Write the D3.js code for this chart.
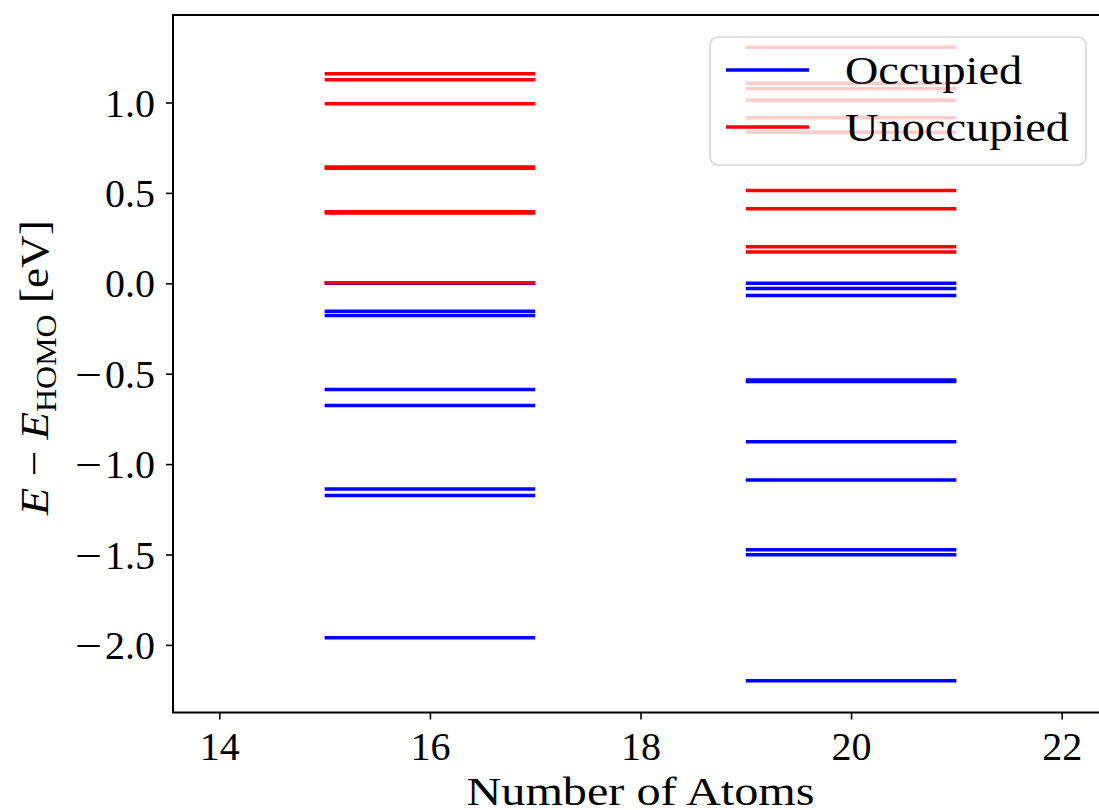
<!DOCTYPE html>
<html>
<head>
<meta charset="utf-8">
<script src="https://cdn.jsdelivr.net/npm/d3@7"></script>
<style>
	html, body { margin: 0; padding: 0; background: #fff; overflow: hidden; }
	svg { display: block; }
	text { font-family: "Liberation Serif", "DejaVu Serif", serif; fill: #000; }
</style>
</head>
<body>
<div id="viz"><svg width="1099" height="810"></svg></div>
<script>
// energy levels relative to HOMO, in eV
const atoms = [16, 20];
const occupied = [
	[0.0, -0.154, -0.178, -0.587, -0.676, -1.138, -1.174, -1.961],
	[0.0, -0.029, -0.067, -0.535, -0.543, -0.877, -1.088, -1.474, -1.502, -2.199]
];
const unoccupied = [
	[0.003, 0.389, 0.396, 0.636, 0.643, 0.993, 1.126, 1.159],
	[0.173, 0.202, 0.412, 0.513, 0.836, 0.915, 1.013, 1.076, 1.107, 1.306]
];
const xTicks = [14, 16, 18, 20, 22];
const yTicks = [-2.0, -1.5, -1.0, -0.5, 0.0, 0.5, 1.0];
const legendLabels = ['Occupied', 'Unoccupied'];
const colors = ['#0000ff', '#ff0000'];

const margin = { left: 173, top: 15 };
const width = 935;
const height = 697.5;

const svg = d3.select('#viz svg');
const g = svg.append('g').attr('transform', `translate(${margin.left},${margin.top})`);

const x = d3.scaleLinear().domain([13.56, 22.44]).range([0, width]);
const y = d3.scaleLinear().domain([-2.374, 1.484]).range([height, 0]);

// levels: one short horizontal segment per energy, spanning N-1 .. N+1
const levels = [];
atoms.forEach((n, i) => {
	occupied[i].forEach(e => levels.push({ n, e, c: 0 }));
	unoccupied[i].forEach(e => levels.push({ n, e, c: 1 }));
});

g.selectAll('line.level')
	.data(levels)
	.enter()
		.append('line')
		.classed('level', true)
		.attr('x1', d => x(d.n - 1))
		.attr('x2', d => x(d.n + 1))
		.attr('y1', d => y(d.e))
		.attr('y2', d => y(d.e))
		.attr('stroke', d => colors[d.c])
		.attr('stroke-width', 3.5);

// axes
const xAxis = g.append('g')
	.attr('transform', `translate(0,${height})`)
	.call(d3.axisBottom(x).tickValues(xTicks).tickSize(7).tickPadding(12).tickFormat(d3.format('d')));
const yAxis = g.append('g')
	.call(d3.axisLeft(y).tickValues(yTicks).tickSize(7).tickPadding(11).tickFormat(''));

[xAxis, yAxis].forEach(ax => {
	ax.select('.domain').remove();
	ax.selectAll('.tick line').attr('stroke', '#000').attr('stroke-width', 1.6);
	ax.selectAll('.tick text').style('font-size', '40px').attr('fill', '#000');
});

// y tick labels with a wide, TeX-like minus sign
yAxis.selectAll('.tick text')
	.attr('dy', '0.34em')
	.each(function (d) {
		const t = d3.select(this);
		if (d < 0) {
			t.append('tspan')
				.attr('textLength', 27)
				.attr('lengthAdjust', 'spacingAndGlyphs')
				.text('\u2212');
			t.append('tspan').attr('dx', 3).text(Math.abs(d).toFixed(1));
		} else {
			t.text(d.toFixed(1));
		}
	});

// frame
g.append('rect')
	.attr('width', width)
	.attr('height', height)
	.attr('fill', 'none')
	.attr('stroke', '#000')
	.attr('stroke-width', 2);

// legend
const lg = g.append('g').attr('transform', `translate(${width - 22 - 376},22)`);
lg.append('rect')
	.attr('width', 376)
	.attr('height', 128)
	.attr('rx', 8)
	.attr('fill', '#fff')
	.attr('fill-opacity', 0.8)
	.attr('stroke', '#cccccc')
	.attr('stroke-opacity', 0.8)
	.attr('stroke-width', 1.6);

const item = lg.selectAll('g.item')
	.data(legendLabels)
	.enter()
		.append('g')
		.attr('transform', (d, i) => `translate(0,${33 + i * 57})`);
item.append('line')
	.attr('x1', 16).attr('x2', 99)
	.attr('stroke', (d, i) => colors[i])
	.attr('stroke-width', 3.5);
item.append('text')
	.attr('x', 135)
	.attr('y', 14)
	.style('font-size', '41px')
	.attr('textLength', (d, i) => [177, 224][i])
	.attr('lengthAdjust', 'spacingAndGlyphs')
	.text(d => d);

// axis labels
svg.append('text')
	.attr('x', margin.left + width / 2)
	.attr('y', 805)
	.attr('text-anchor', 'middle')
	.style('font-size', '40px')
	.attr('textLength', 348)
	.attr('lengthAdjust', 'spacingAndGlyphs')
	.text('Number of Atoms');

const yl = svg.append('text')
	.attr('transform', `translate(48,${margin.top + height / 2 + 4}) rotate(-90)`)
	.attr('text-anchor', 'middle')
	.attr('textLength', 295)
	.attr('lengthAdjust', 'spacingAndGlyphs')
	.style('font-size', '41px');
yl.append('tspan').style('font-style', 'italic').text('E');
yl.append('tspan').text(' \u2212 ');
yl.append('tspan').style('font-style', 'italic').text('E');
yl.append('tspan').attr('dy', 8).style('font-size', '29px').text('HOMO');
yl.append('tspan').attr('dy', -8).text(' [eV]');
</script>
</body>
</html>
